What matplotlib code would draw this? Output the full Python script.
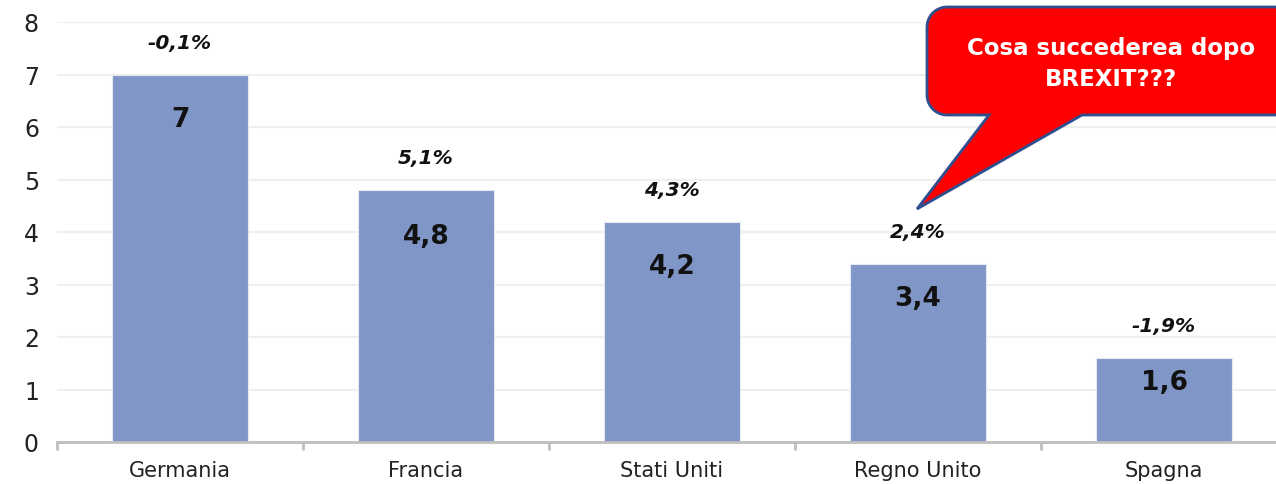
import numpy as np
import matplotlib.pyplot as plt
from matplotlib.patches import PathPatch
from matplotlib.path import Path

paesi = ['Germania', 'Francia', 'Stati Uniti', 'Regno Unito', 'Spagna']
valori = [7, 4.8, 4.2, 3.4, 1.6]
etichette = ['7', '4,8', '4,2', '3,4', '1,6']
variazioni = ['-0,1%', '5,1%', '4,3%', '2,4%', '-1,9%']

fig = plt.figure(figsize=(12.76, 4.85), dpi=100)
ax = fig.add_axes([57/1276, 1 - 443/485, 1230/1276, 420/485])

x = np.arange(len(paesi))
bars = ax.bar(x, valori, width=0.553, color='#8096C6', edgecolor='#E4E9F4', linewidth=0.8, zorder=2)

ax.set_xlim(-0.5, 4.5)
ax.set_ylim(0, 8)
ax.set_yticks(range(0, 9))
ax.yaxis.grid(True, color='#EFEFEF', linewidth=1.5, zorder=0)
ax.set_axisbelow(True)
for s in ['left', 'right', 'top']:
    ax.spines[s].set_visible(False)
ax.spines['bottom'].set_color('#BFBFBF')
ax.spines['bottom'].set_linewidth(2)
ax.set_xticks(x)
ax.set_xticklabels(paesi, fontsize=15, color='#222222')
ax.set_xticks(np.arange(-0.5, 5, 1), minor=True)
ax.tick_params(axis='x', which='major', length=0, pad=13)
ax.tick_params(axis='x', which='minor', length=6, width=2, color='#BFBFBF')
ax.tick_params(axis='y', length=0, labelsize=17, pad=13, labelcolor='#222222')

# offset delle etichette interne (pixel sotto la cima)
off_int = [45, 46, 45, 35, 24]
for i, b in enumerate(bars):
    ax.annotate(etichette[i], (b.get_x() + b.get_width() / 2, valori[i]),
                xytext=(0, -off_int[i] * 0.72), textcoords='offset points',
                ha='center', va='center', fontsize=19, fontweight='bold', color='#111111')
    ax.annotate(variazioni[i], (b.get_x() + b.get_width() / 2, valori[i]),
                xytext=(0, 32 * 0.72), textcoords='offset points',
                ha='center', va='center', fontsize=14.5, fontweight='bold',
                fontstyle='italic', color='#111111')

# fumetto
ov = fig.add_axes([0, 0, 1, 1])
ov.set_xlim(0, 1276)
ov.set_ylim(485, 0)
ov.axis('off')
r = 20
x0, x1, y0, y1 = 927, 1300, 8, 116
def arco(cx, cy, a0, a1):
    t = np.radians(np.linspace(a0, a1, 12))
    return list(zip(cx + r * np.cos(t), cy + r * np.sin(t)))
verts = [(x0 + r, y0), (x1, y0), (x1, y1), (1082, y1), (917, 210), (989, y1)]
verts += arco(x0 + r, y1 - r, 90, 180)
verts += arco(x0 + r, y0 + r, 180, 270)
verts.append(verts[0])
codes = [Path.MOVETO] + [Path.LINETO] * (len(verts) - 2) + [Path.CLOSEPOLY]
ov.add_patch(PathPatch(Path(verts, codes), facecolor='#FF0000', edgecolor='#2F4F8F', linewidth=2))
ov.text(1111, 64, 'Cosa succederea dopo\nBREXIT???', ha='center', va='center',
        fontsize=16.5, fontweight='bold', color='white', linespacing=1.45)

fig.savefig('out.png', dpi=100)
